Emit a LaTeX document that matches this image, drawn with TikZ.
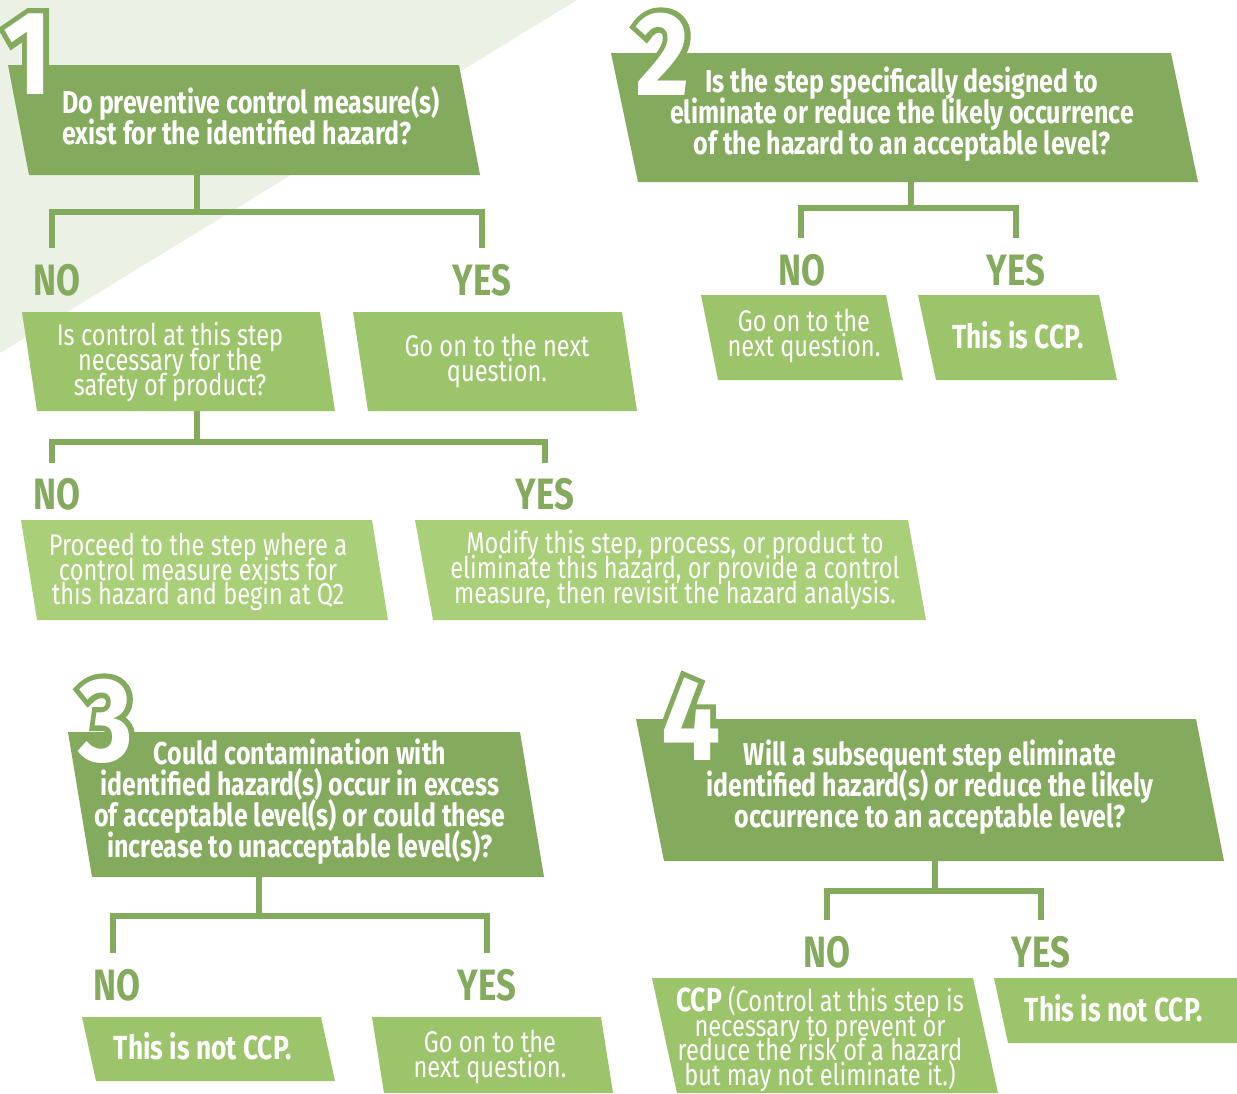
\documentclass[tikz,border=0pt]{standalone}
\usepackage{fontspec}
\setmainfont{Fira Sans}[FakeStretch=0.79]
\newfontfamily\numfont{Fira Sans}[FakeStretch=0.88]
\newfontfamily\numedge{Fira Sans}[FakeStretch=0.88, FakeBold=9]
\usetikzlibrary{positioning}

\definecolor{hdgreen}{HTML}{83AA5D}
\definecolor{ansgreen}{HTML}{9CC46A}
\definecolor{litgreen}{HTML}{AACF79}
\definecolor{bggreen}{HTML}{EBF1E5}

\newcommand{\tightlines}{\lineskiplimit -20pt\relax}

%% slanted slab: colour, top y, bottom y, top left x, top right x, slant
\newcommand{\slab}[6]{%
  \fill[#1] (#4,#2) -- (#5,#2) -- ({#5+#6},#3) -- ({#4+#6},#3) -- cycle;}

%% outlined step number: name, x, y, digit
\newcommand{\bignum}[4]{%
  \node[num, text=hdgreen, font={\fontsize{68}{68}\numedge\bfseries}] at (#2,#3) {#4};
  \node[num] (#1) at (#2,#3) {#4};}

\tikzset{
  qtext/.style={text=white, align=center, inner sep=0pt,
    font={\fontsize{18}{17.6}\selectfont\bfseries\tightlines}},
  atext/.style={text=white, align=center, inner sep=0pt,
    font={\fontsize{17}{14}\selectfont\tightlines}},
  abold/.style={text=white, inner sep=0pt,
    font={\fontsize{19}{19}\selectfont\bfseries}},
  yn/.style={text=hdgreen, inner sep=0pt,
    font={\fontsize{25}{25}\selectfont\bfseries}},
  num/.style={text=white, inner sep=0pt,
    font={\fontsize{68}{68}\numfont\bfseries}},
  link/.style={draw=hdgreen, line width=3.4pt},
}

\begin{document}
\begin{tikzpicture}[x=0.02cm, y=-0.02cm]
\useasboundingbox (0,0) rectangle (1237,1093);
%% background wedge
\fill[bggreen] (0,0) -- (577,0) -- (0,353) -- cycle;

%% question 1
\slab{hdgreen}{65}{175}{8}{459}{21}
\bignum{num1}{28}{54}{1}
\node[qtext, align=left] (q1) at (251,116) {Do preventive control measure(s)\\exist for the identified hazard?};
\coordinate (s1) at (197,175);
\coordinate (b1) at (197,212);
\coordinate (d1n) at (52,248);
\coordinate (d1y) at (482,248);
\draw[link] (s1) -- (b1);
\draw[link] (d1n) |- (b1) -| (d1y);
\node[yn] (no1) at (57,280) {NO};
\node[yn] (yes1) at (482,280) {YES};
\slab{ansgreen}{312}{411}{22}{320}{15}
\node[atext] (a1n) at (170,362) {Is control at this step\\necessary for the\\safety of product?};
\slab{ansgreen}{312}{411}{353}{622}{15}
\node[atext] (a1y) at (497,361) {Go on to the next\\question.};

%% control at this step?
\coordinate (s2) at (197,411);
\coordinate (b2) at (197,442);
\coordinate (d2n) at (52,463);
\coordinate (d2y) at (545,463);
\draw[link] (s2) -- (b2);
\draw[link] (d2n) |- (b2) -| (d2y);
\node[yn] (no2) at (57,494) {NO};
\node[yn] (yes2) at (545,494) {YES};
\slab{litgreen}{520}{620}{21}{372}{16}
\node[atext] (a2n) at (198,572) {Proceed to the step where a\\control measure exists for\\this hazard and begin at Q2};
\slab{litgreen}{520}{620}{415}{908}{18}
\node[atext] (a2y) at (675,570) {Modify this step, process, or product to\\eliminate this hazard, or provide a control\\measure, then revisit the hazard analysis.};

%% question 2
\slab{hdgreen}{53}{182}{611}{1171}{27}
\bignum{num2}{663}{54}{2}
\node[qtext] (q2) at (902,114) {Is the step specifically designed to\\eliminate or reduce the likely occurrence\\of the hazard to an acceptable level?};
\coordinate (s3) at (911,182);
\coordinate (b3) at (911,208);
\coordinate (d3n) at (801,238);
\coordinate (d3y) at (1016,238);
\draw[link] (s3) -- (b3);
\draw[link] (d3n) |- (b3) -| (d3y);
\node[yn] (no3) at (802,270) {NO};
\node[yn] (yes3) at (1016,270) {YES};
\slab{ansgreen}{295}{380}{701}{886}{17}
\node[atext] (a3n) at (804,336) {Go on to the\\next question.};
\slab{ansgreen}{295}{380}{918}{1099}{18}
\node[abold] (a3y) at (1018,335) {This is CCP.};

%% question 3
\slab{hdgreen}{732}{877}{68}{520}{24}
\bignum{num3}{106}{721}{3}
\node[qtext] (q3) at (300,802) {Could contamination with\\identified hazard(s) occur in excess\\of acceptable level(s) or could these\\increase to unacceptable level(s)?};
\coordinate (s4) at (259,877);
\coordinate (b4) at (259,916);
\coordinate (d4n) at (113,953);
\coordinate (d4y) at (487,953);
\draw[link] (s4) -- (b4);
\draw[link] (d4n) |- (b4) -| (d4y);
\node[yn] (no4) at (117,985) {NO};
\node[yn] (yes4) at (487,985) {YES};
\slab{ansgreen}{1017}{1081}{82}{321}{14}
\node[abold] (a4n) at (203,1046) {This is not CCP.};
\slab{ansgreen}{1017}{1093}{372}{601}{12}
\node[atext] (a4y) at (490,1057) {Go on to the\\next question.};

%% question 4
\slab{hdgreen}{719}{861}{636}{1196}{28}
\bignum{num4}{691}{719}{4}
\node[qtext] (q4) at (930,787) {Will a subsequent step eliminate\\identified hazard(s) or reduce the likely\\occurrence to an acceptable level?};
\coordinate (s5) at (935,861);
\coordinate (b5) at (935,891);
\coordinate (d5n) at (827,920);
\coordinate (d5y) at (1041,920);
\draw[link] (s5) -- (b5);
\draw[link] (d5n) |- (b5) -| (d5y);
\node[yn] (no5) at (827,952) {NO};
\node[yn] (yes5) at (1041,952) {YES};
\slab{ansgreen}{978}{1093}{652}{973}{25}
\node[atext] (a5n) at (820,1039) {{\fontsize{19}{14}\selectfont\bfseries CCP} (Control at this step is\\necessary to prevent or\\reduce the risk of a hazard\\but may not eliminate it.)};
\slab{ansgreen}{978}{1043}{994}{1245}{14}
\node[abold] (a5y) at (1114,1008) {This is not CCP.};

\end{tikzpicture}
\end{document}
